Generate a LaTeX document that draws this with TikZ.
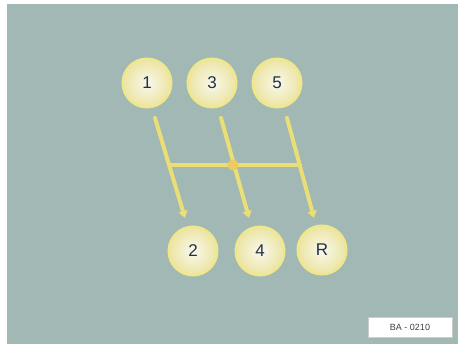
\documentclass[tikz,border=0pt]{standalone}
\usepackage{fontspec}
\setmainfont{Liberation Sans}
\usetikzlibrary{arrows.meta}
\definecolor{bgpanel}{RGB}{162,184,180}
\definecolor{gearline}{RGB}{234,222,118}
\definecolor{knobring}{RGB}{236,228,160}
\definecolor{knobcore}{RGB}{248,248,238}
\definecolor{digit}{RGB}{35,50,65}
\tikzset{
  knob/.style={circle, minimum size=49pt, inner sep=0pt, draw=knobring!85!yellow, line width=2pt,
    inner color=knobcore, outer color=knobring, font=\fontsize{17}{17}\selectfont, text=digit},
  gate/.style={gearline, line width=4pt, line cap=round},
  shiftpath/.style={gate, -{Triangle[length=7pt,width=9pt]}},
}
\begin{document}
\begin{tikzpicture}[x=1pt,y=-1pt]
\useasboundingbox (0,0) rectangle (458,344);
\fill[white] (0,0) rectangle (458,344);
\fill[bgpanel] (7,4) rectangle (458,344);
% knobs
\node[knob] (k1) at (147,83) {1};
\node[knob] (k3) at (212,83) {3};
\node[knob] (k5) at (277,83) {5};
\node[knob] (k2) at (193,251) {2};
\node[knob] (k4) at (260,251) {4};
\node[knob] (kR) at (322,250) {R};
% shift paths
\coordinate (s1) at (155,118);
\coordinate (e1) at (185,218);
\coordinate (s3) at (221,118);
\coordinate (e3) at (249,218);
\coordinate (s5) at (287,118);
\coordinate (e5) at (314,218);
\coordinate (hl) at (170,165);
\coordinate (hr) at (300,165);
\draw[gate] (hl) -- (hr);
\draw[shiftpath] (s1) -- (e1);
\draw[shiftpath] (s3) -- (e3);
\draw[shiftpath] (s5) -- (e5);
\node[circle, fill=gearline!80!orange, minimum size=11pt, inner sep=0pt] (neutral) at (233,165) {};
% label
\node[fill=white, draw=gray!40, inner sep=0pt, minimum width=84pt, minimum height=20pt,
  font=\fontsize{9}{9}\selectfont, text=black!75] (code) at (410,327) {BA - 0210};
\end{tikzpicture}
\end{document}
